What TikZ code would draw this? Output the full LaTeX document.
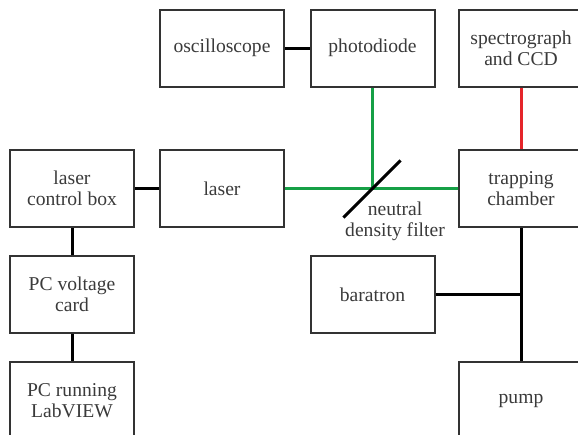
\documentclass[tikz,border=0pt]{standalone}
\usepackage{fontspec}
\setmainfont{Liberation Serif}
\definecolor{boxgray}{HTML}{333333}
\definecolor{txtgray}{HTML}{3A3A3A}
\definecolor{beamgreen}{HTML}{16A046}
\definecolor{specred}{HTML}{E5252A}

\begin{document}
\begin{tikzpicture}[x=0.5pt,y=-0.5pt,font=\fontsize{9.8}{10.5}\selectfont,
  unit/.style={draw=boxgray,line width=1pt,text=txtgray,align=center,
    minimum width=62pt,minimum height=38.5pt,inner sep=0pt},
  wire/.style={black,line width=1.5pt},
  beam/.style={beamgreen,line width=1.5pt},
  signal/.style={specred,line width=1.5pt}]

  \useasboundingbox (0,0) rectangle (578,434);
  \clip (0,0) rectangle (578,434);

  % =====================================================================
  % 1. INSTRUMENT BOXES
  % =====================================================================

  \node[unit] (osc)   at (222,48)      {oscilloscope};
  \node[unit] (pd)    at (372.5,48)    {photodiode};
  \node[unit] (spec)  at (521,48)      {spectrograph\\and CCD};

  \node[unit] (lcb)   at (72,188.5)    {laser\\control box};
  \node[unit] (laser) at (222,188.5)   {laser};
  \node[unit] (trap)  at (521,188.5)   {trapping\\chamber};

  \node[unit] (pcv)   at (72,294.5)    {PC voltage\\card};
  \node[unit] (bar)   at (372.5,294.5) {baratron};

  \node[unit] (pclv)  at (72,400.5)    {PC running\\LabVIEW};
  \node[unit] (pump)  at (521,400.5)   {pump};

  % =====================================================================
  % 2. CABLES, BEAMS AND VACUUM LINES
  % =====================================================================

  % electrical connections
  \draw[wire] (osc) -- (pd);
  \draw[wire] (lcb) -- (laser);
  \draw[wire] (lcb) -- (pcv);
  \draw[wire] (pcv) -- (pclv);

  % vacuum line: chamber, baratron and pump
  \draw[wire] (trap) -- (pump);
  \draw[wire] (bar.east) -- (bar.east -| trap.south);

  % fluorescence to the spectrograph
  \draw[signal] (spec) -- (trap);

  % laser beam, split at the filter
  \coordinate (ndf) at (372.5,188.5);
  \draw[beam] (laser) -- (trap);
  \draw[beam] (pd.south) -- (ndf);

  % neutral density filter
  \draw[wire] ([shift={(-29,29)}]ndf) -- ([shift={(28,-28)}]ndf);
  \node[text=txtgray,align=center,anchor=north,inner sep=0pt] (ndflabel)
        at (395,201) {neutral\\density filter};

\end{tikzpicture}
\end{document}
